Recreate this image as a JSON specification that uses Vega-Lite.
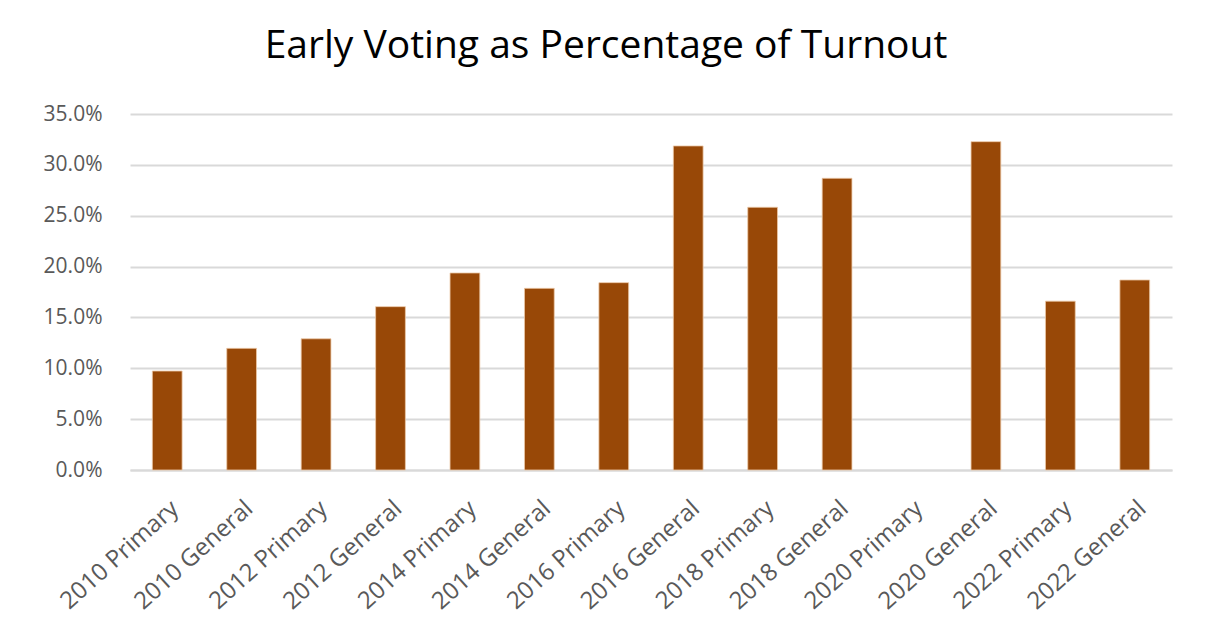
{
  "$schema": "https://vega.github.io/schema/vega-lite/v6.json",
  "width": 1042,
  "height": 356,
  "autosize": {"type": "none"},
  "padding": {"left": 130, "top": 114, "right": 33, "bottom": 159},
  "background": "white",
  "title": {
    "text": "Early Voting as Percentage of Turnout",
    "font": "Open Sans",
    "fontSize": 39,
    "fontWeight": "normal",
    "color": "#000000",
    "anchor": "middle",
    "baseline": "alphabetic",
    "offset": 6,
    "dx": -45
  },
  "data": {
    "values": [
      {"election": "2010 Primary", "pct": 0.0973},
      {"election": "2010 General", "pct": 0.1196},
      {"election": "2012 Primary", "pct": 0.129},
      {"election": "2012 General", "pct": 0.1606},
      {"election": "2014 Primary", "pct": 0.1937},
      {"election": "2014 General", "pct": 0.1786},
      {"election": "2016 Primary", "pct": 0.1842},
      {"election": "2016 General", "pct": 0.3186},
      {"election": "2018 Primary", "pct": 0.2583},
      {"election": "2018 General", "pct": 0.2868},
      {"election": "2020 Primary", "pct": null},
      {"election": "2020 General", "pct": 0.3228},
      {"election": "2022 Primary", "pct": 0.166},
      {"election": "2022 General", "pct": 0.1868}
    ]
  },
  "mark": {"type": "bar", "color": "#984807", "stroke": "#ecc9a8", "strokeWidth": 0.8},
  "encoding": {
    "x": {
      "field": "election",
      "type": "nominal",
      "sort": null,
      "scale": {
        "domain": ["2010 Primary", "2010 General", "2012 Primary", "2012 General", "2014 Primary", "2014 General", "2016 Primary", "2016 General", "2018 Primary", "2018 General", "2020 Primary", "2020 General", "2022 Primary", "2022 General"],
        "paddingInner": 0.6,
        "paddingOuter": 0.3
      },
      "axis": {
        "title": null,
        "labelAngle": -42,
        "labelFont": "Open Sans",
        "labelFontSize": 24,
        "labelColor": "#595959",
        "labelPadding": 26,
        "ticks": false,
        "domainColor": "#d9d9d9",
        "domainWidth": 2,
        "grid": false
      }
    },
    "y": {
      "field": "pct",
      "type": "quantitative",
      "scale": {"domain": [0, 0.35], "nice": false},
      "axis": {
        "title": null,
        "format": ".1%",
        "values": [0, 0.05, 0.1, 0.15, 0.2, 0.25, 0.3, 0.35],
        "labelFont": "Open Sans",
        "labelFontSize": 21,
        "labelColor": "#595959",
        "labelPadding": 28,
        "ticks": false,
        "domain": false,
        "gridColor": "#d9d9d9",
        "gridWidth": 2
      }
    }
  },
  "config": {"view": {"stroke": null}}
}
